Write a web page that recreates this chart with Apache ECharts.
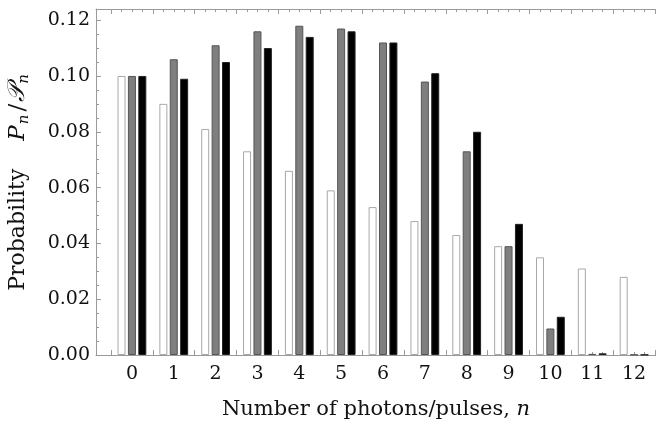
<!DOCTYPE html>
<html>
<head>
<meta charset="utf-8">
<script src="https://cdn.jsdelivr.net/npm/echarts@6/dist/echarts.min.js"></script>
<style>
html,body{margin:0;padding:0;background:#fff;}
#chart{width:656px;height:428px;}
</style>
</head>
<body>
<div id="chart"></div>
<script>
const categories = ['0','1','2','3','4','5','6','7','8','9','10','11','12'];
const whiteValues = [0.100,0.090,0.081,0.073,0.066,0.059,0.053,0.048,0.043,0.039,0.035,0.031,0.028];
const grayValues  = [0.100,0.106,0.111,0.116,0.118,0.117,0.112,0.098,0.073,0.039,0.0095,0.0004,0.0001];
const blackValues = [0.100,0.099,0.105,0.110,0.114,0.116,0.112,0.101,0.080,0.047,0.0137,0.0006,0.0001];
const yMin = 0, yMax = 0.124, yStep = 0.02;

const FONT = 'DejaVu Serif';
const frameColor = '#9a9a9a';

const chart = echarts.init(document.getElementById('chart'), null, {renderer:'canvas'});
const barBase = {type:'bar', xAxisIndex:2, yAxisIndex:1, barWidth:8, barGap:'30%', animation:false};
chart.setOption({
  animation:false,
  backgroundColor:'#fff',
  grid:[
    {left:96, right:0, top:9, bottom:73, containLabel:false, outerBoundsMode:'none'},
    {left:111, right:1, top:9, bottom:73, containLabel:false, outerBoundsMode:'none'}
  ],
  xAxis:[
    {gridIndex:0, type:'value', min:0, max:1, position:'bottom',
     axisLine:{show:true, lineStyle:{color:frameColor, width:1}},
     axisTick:{show:false}, axisLabel:{show:false}, splitLine:{show:false},
     name:'Number of photons/pulses, {it|n}', nameLocation:'middle', nameGap:44,
     nameTextStyle:{fontFamily:FONT, fontSize:21, color:'#111',
       rich:{it:{fontFamily:FONT, fontStyle:'italic', fontSize:21, color:'#111'}}}},
    {gridIndex:0, type:'value', min:0, max:1, position:'top',
     axisLine:{show:true, lineStyle:{color:frameColor, width:1}},
     axisTick:{show:false}, axisLabel:{show:false}, splitLine:{show:false}},
    {gridIndex:1, type:'category', data:categories, position:'bottom',
     axisLine:{show:false}, axisTick:{show:false},
     axisLabel:{fontFamily:FONT, fontSize:19, color:'#111', margin:10}},
    {gridIndex:1, type:'value', min:-0.5, max:12.5, interval:1, position:'bottom',
     axisLine:{show:false}, axisLabel:{show:false}, splitLine:{show:false},
     axisTick:{show:true, inside:true, length:5, lineStyle:{color:frameColor}},
     minorTick:{show:true, splitNumber:4, length:3, lineStyle:{color:frameColor}},
     minorSplitLine:{show:false}},
    {gridIndex:1, type:'value', min:-0.5, max:12.5, interval:1, position:'top',
     axisLine:{show:false}, axisLabel:{show:false}, splitLine:{show:false},
     axisTick:{show:true, inside:true, length:5, lineStyle:{color:frameColor}},
     minorTick:{show:true, splitNumber:4, length:3, lineStyle:{color:frameColor}},
     minorSplitLine:{show:false}}
  ],
  yAxis:[
    {gridIndex:0, type:'value', min:yMin, max:yMax, interval:yStep,
     axisLine:{show:true, lineStyle:{color:frameColor, width:1}},
     axisTick:{show:true, inside:true, length:5, lineStyle:{color:frameColor}},
     minorTick:{show:true, splitNumber:4, length:3, lineStyle:{color:frameColor}},
     splitLine:{show:false}, minorSplitLine:{show:false},
     axisLabel:{fontFamily:FONT, fontSize:19, color:'#111', margin:6,
       formatter:function(v){return v.toFixed(2);}},
     name:'Probability    {it|P}{sub|n}{sl|/}{sc|𝒫}{sub|n}',
     nameLocation:'middle', nameRotate:90, nameGap:64,
     nameTextStyle:{fontFamily:FONT, fontSize:22, color:'#111', lineHeight:28,
       rich:{
         it:{fontFamily:FONT, fontStyle:'italic', fontSize:23, color:'#111', lineHeight:28},
         sub:{fontFamily:FONT, fontStyle:'italic', fontSize:15, color:'#111', verticalAlign:'bottom', lineHeight:28, padding:[0,1,0,1]},
         sl:{fontFamily:FONT, fontSize:23, color:'#111', lineHeight:28, padding:[0,2,0,2]},
         sc:{fontFamily:FONT, fontStyle:'italic', fontSize:24, color:'#111', lineHeight:28}
       }}},
    {gridIndex:1, type:'value', min:yMin, max:yMax, show:false, splitLine:{show:false}}
  ],
  series:[
    Object.assign({}, barBase, {name:'a', data:whiteValues,
      itemStyle:{color:'#ffffff', borderColor:'#a8a8a8', borderWidth:1}}),
    Object.assign({}, barBase, {name:'b', data:grayValues,
      itemStyle:{color:'#7f7f7f', borderColor:'#555555', borderWidth:1}}),
    Object.assign({}, barBase, {name:'c', data:blackValues,
      itemStyle:{color:'#000000', borderColor:'#222222', borderWidth:1}})
  ]
});
</script>
</body>
</html>
